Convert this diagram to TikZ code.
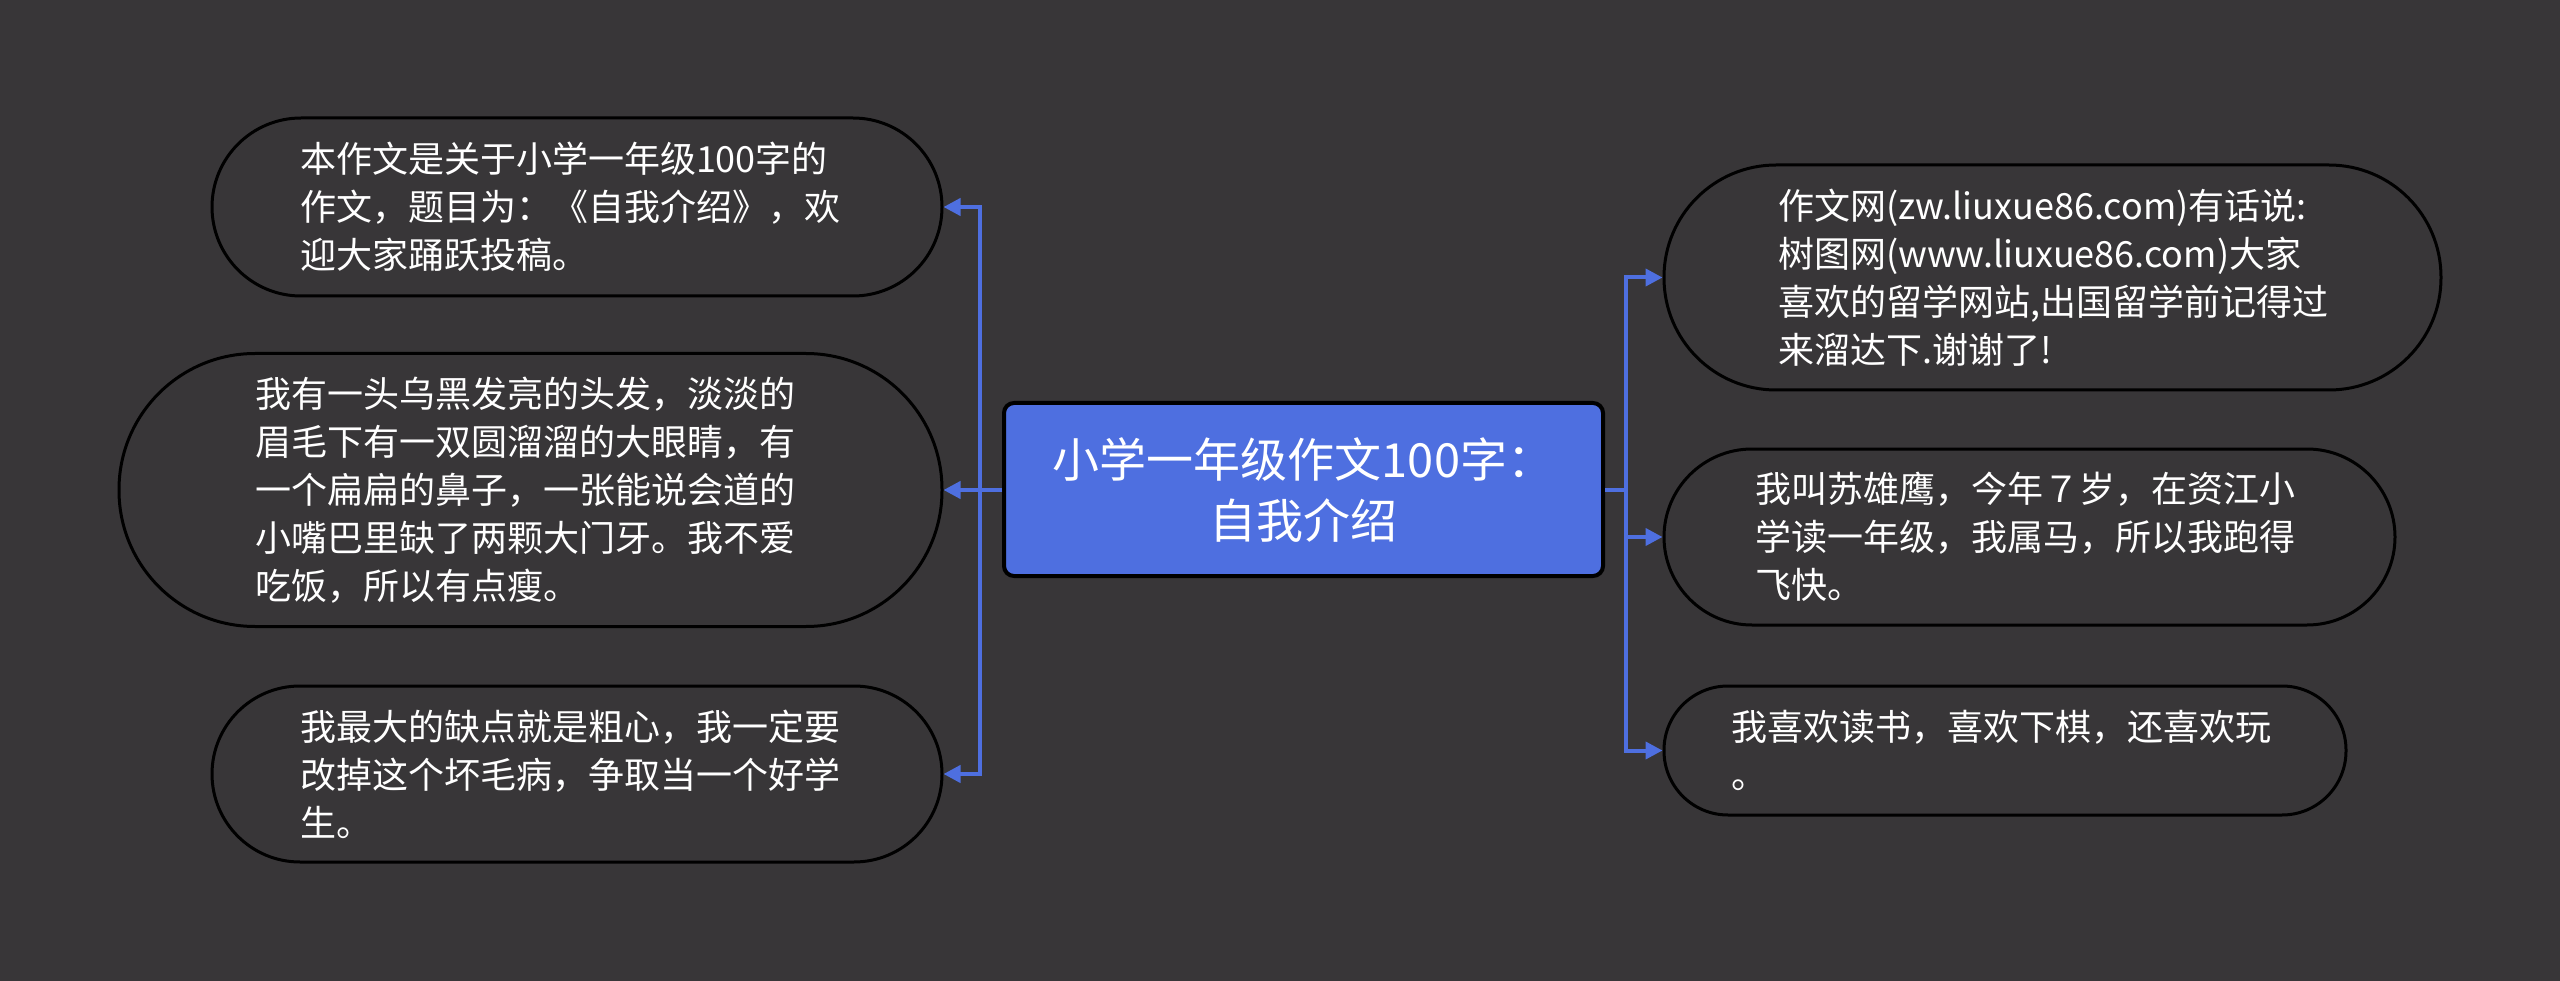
\documentclass[tikz,border=0pt]{standalone}
\usepackage{fontspec}
\setmainfont{Noto Sans CJK SC}
\usetikzlibrary{arrows.meta}
\definecolor{bg}{HTML}{383638}
\definecolor{blu}{HTML}{4E6FE0}
\tikzset{
  leaf/.style={draw=black, line width=3pt, fill=bg, text=white, align=left,
    font=\fontsize{36}{48}\selectfont, inner ysep=0pt},
  root/.style={draw=black, line width=4pt, fill=blu, rounded corners=10pt,
    text=white, align=center, font=\fontsize{47}{61}\selectfont,
    minimum width=599pt, minimum height=173pt},
  conn/.style={draw=blu, line width=4pt, -{Triangle[length=17pt,width=17pt]}},
}
\begin{document}
\begin{tikzpicture}[x=1pt,y=-1pt]
\fill[bg] (0,0) rectangle (2560,981);
\useasboundingbox (0,0) rectangle (2560,981);

\node[root] (root) at (1303.5,489.5) {小学一年级作文100字：\\自我介绍};

\node[leaf, inner xsep=88pt, text width=554pt, minimum height=178pt, rounded corners=89pt] (L1) at (577,207)
  {本作文是关于小学一年级100字的\\作文，题目为：《自我介绍》，欢\\迎大家踊跃投稿。};
\node[leaf, inner xsep=136pt, text width=551pt, minimum height=273pt, rounded corners=136pt] (L2) at (530.5,490)
  {我有一头乌黑发亮的头发，淡淡的\\眉毛下有一双圆溜溜的大眼睛，有\\一个扁扁的鼻子，一张能说会道的\\小嘴巴里缺了两颗大门牙。我不爱\\吃饭，所以有点瘦。};
\node[leaf, inner xsep=88pt, text width=554pt, minimum height=176pt, rounded corners=88pt] (L3) at (577,774)
  {我最大的缺点就是粗心，我一定要\\改掉这个坏毛病，争取当一个好学\\生。};

\node[leaf, inner xsep=114pt, text width=549pt, minimum height=225pt, rounded corners=112pt] (R1) at (2052.5,277.5)
  {作文网(zw.liuxue86.com)有话说:\\树图网(www.liuxue86.com)大家\\喜欢的留学网站,出国留学前记得过\\来溜达下.谢谢了!};
\node[leaf, inner xsep=91pt, text width=549pt, minimum height=176pt, rounded corners=88pt] (R2) at (2029.5,537)
  {我叫苏雄鹰，今年７岁，在资江小\\学读一年级，我属马，所以我跑得\\飞快。};
\node[leaf, inner xsep=67pt, text width=548pt, minimum height=129pt, rounded corners=64pt] (R3) at (2005,750.5)
  {我喜欢读书，喜欢下棋，还喜欢玩\\。};

\coordinate (lt) at (980,489.5);
\coordinate (rt) at (1626,489.5);

\draw[conn] (root.west) -- (lt) |- (L1.east);
\draw[conn] (root.west) -- (lt) |- (L2.east);
\draw[conn] (root.west) -- (lt) |- (L3.east);
\draw[conn] (root.east) -- (rt) |- (R1.west);
\draw[conn] (root.east) -- (rt) |- (R2.west);
\draw[conn] (root.east) -- (rt) |- (R3.west);
\end{tikzpicture}
\end{document}
